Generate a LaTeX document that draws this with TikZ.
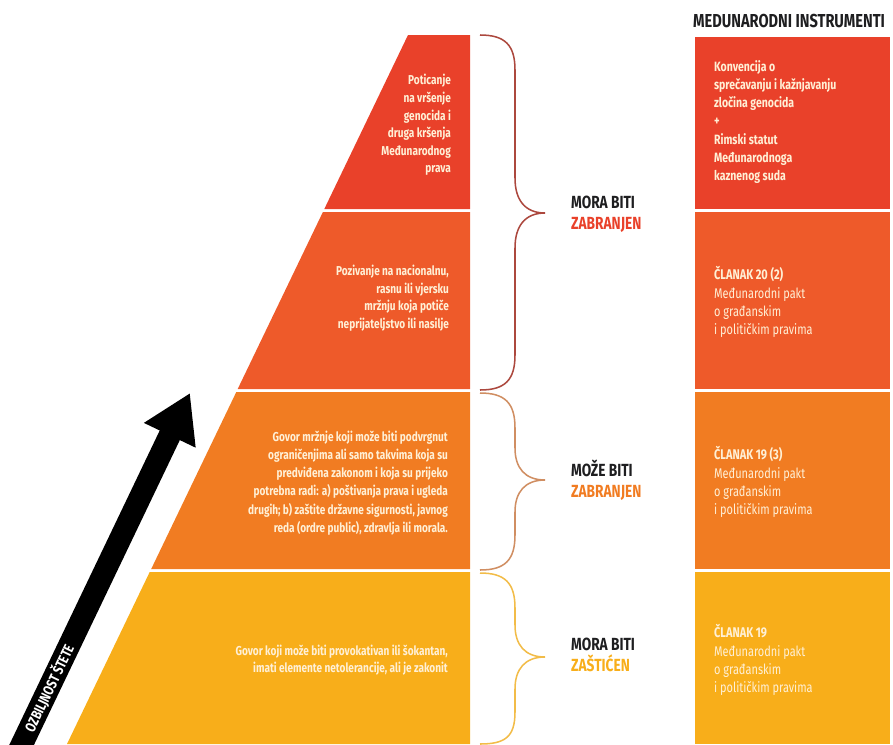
\documentclass[tikz,border=0pt]{standalone}
\usepackage{fontspec}
\setmainfont{Fira Sans}[FakeStretch=0.78]
\usepackage{tikz}
\usetikzlibrary{calc}
\usetikzlibrary{arrows.meta}

\definecolor{tierred}{RGB}{233,65,42}
\definecolor{tierscarlet}{RGB}{238,90,42}
\definecolor{tierorange}{RGB}{241,124,34}
\definecolor{tieryellow}{RGB}{248,174,26}
\definecolor{cream}{RGB}{255,240,214}
\definecolor{ink}{RGB}{30,30,32}
\definecolor{bracered}{RGB}{172,72,62}
\definecolor{bracetan}{RGB}{208,142,98}
\definecolor{braceyellow}{RGB}{242,188,72}

\begin{document}
\begin{tikzpicture}[x=0.03cm,y=-0.03cm,
  tiertext/.style={text=cream,align=right,anchor=east,font=\bfseries\fontsize{11}{15}\selectfont},
  boxtext/.style={text=cream,align=left,anchor=west,font=\fontsize{12}{15.5}\selectfont},
  verdict/.style={text=ink,align=left,anchor=west,font=\bfseries\fontsize{15}{17.5}\selectfont},
  brace/.style={line width=1.3pt}]
  \useasboundingbox (0,0) rectangle (893,744);
  \clip (0,0) rectangle (893,744);

  % pyramid
  \coordinate (apex) at (408,35);
  \coordinate (foot) at (67,744);
  \fill [tierred] (apex) -- (470,35) -- (470,209) -- (324.3,209) -- cycle;
  \fill [tierscarlet] (322.9,212) -- (470,212) -- (470,389) -- (237.7,389) -- cycle;
  \fill [tierorange] (236.3,392) -- (470,392) -- (470,569) -- (151.2,569) -- cycle;
  \fill [tieryellow] (149.7,572) -- (470,572) -- (470,744) -- (foot) -- cycle;

  \node [tiertext] (incite) at (455,125) {Poticanje\\na vršenje\\genocida i\\druga kršenja\\Međunarodnog\\prava};
  \node [tiertext] (advocacy) at (453,298) {Pozivanje na nacionalnu,\\rasnu ili vjersku\\mržnju koja potiče\\neprijateljstvo ili nasilje};
  \node [tiertext, font=\bfseries\fontsize{11}{15.5}\selectfont] (restrict) at (452,483) {Govor mržnje koji može biti podvrgnut\\ograničenjima ali samo takvima koja su\\predviđena zakonom i koja su prijeko\\potrebna radi: a) poštivanja prava i ugleda\\drugih; b) zaštite državne sigurnosti, javnog\\reda (ordre public), zdravlja ili morala.};
  \node [tiertext] (lawful) at (452,660) {Govor koji može biti provokativan ili šokantan,\\imati elemente netolerancije, ali je zakonit};

  % severity arrow
  \coordinate (tail) at (12,765);
  \coordinate (tip) at (190,393);
  \draw [line width=19pt, -{Triangle[width=46pt,length=40pt]}] (tail) -- (tip);
  \node [rotate=64.4, text=white, font=\bfseries\fontsize{12.5}{13}\selectfont] (severity) at (49,688) {OZBILJNOST ŠTETE};

  % braces
  \draw [brace, bracered] (480,35) .. controls (505,35) and (515,45) .. (515,70) -- (515,178)
    .. controls (515,200) and (525,213) .. (545,213) .. controls (525,213) and (515,226) .. (515,248)
    -- (515,355) .. controls (515,380) and (505,390) .. (480,390);
  \draw [brace, bracetan] (480,393) .. controls (505,393) and (515,403) .. (515,428) -- (515,448)
    .. controls (515,468) and (525,480) .. (545,480) .. controls (525,480) and (515,492) .. (515,512)
    -- (515,535) .. controls (515,560) and (505,570) .. (480,570);
  \draw [brace, braceyellow] (480,573) .. controls (505,573) and (515,583) .. (515,608) -- (515,625)
    .. controls (515,645) and (525,657) .. (545,657) .. controls (525,657) and (515,669) .. (515,689)
    -- (515,712) .. controls (515,737) and (505,744) .. (480,744);

  \node [verdict] (banned) at (567,214) {MORA BITI\\\textcolor{tierred}{ZABRANJEN}};
  \node [verdict] (maybe) at (567,480) {MOŽE BITI\\\textcolor{tierorange}{ZABRANJEN}};
  \node [verdict] (guarded) at (567,655) {MORA BITI\\\textcolor{tieryellow}{ZAŠTIĆEN}};

  % instruments
  \node [text=ink, anchor=west, font=\bfseries\fontsize{16}{18}\selectfont] (header) at (689,21) {MEDUNARODNI INSTRUMENTI};
  \fill [tierred] (695,37) rectangle (890,209);
  \fill [tierscarlet] (695,212) rectangle (890,389);
  \fill [tierorange] (695,392) rectangle (890,569);
  \fill [tieryellow] (695,572) rectangle (890,744);

  \node [boxtext, font=\bfseries\fontsize{11.5}{15.5}\selectfont] (genocide) at (710,122) {Konvencija o\\sprečavanju i kažnjavanju\\zločina genocida\\+\\Rimski statut\\Međunarodnoga\\kaznenog suda};
  \node [boxtext] (art202) at (710,302) {\textbf{ČLANAK 20 (2)}\\Međunarodni pakt\\o građanskim\\i političkim pravima};
  \node [boxtext] (art193) at (710,482) {\textbf{ČLANAK 19 (3)}\\Međunarodni pakt\\o građanskim\\i političkim pravima};
  \node [boxtext] (art19) at (710,660) {\textbf{ČLANAK 19}\\Međunarodni pakt\\o građanskim\\i političkim pravima};
\end{tikzpicture}
\end{document}
